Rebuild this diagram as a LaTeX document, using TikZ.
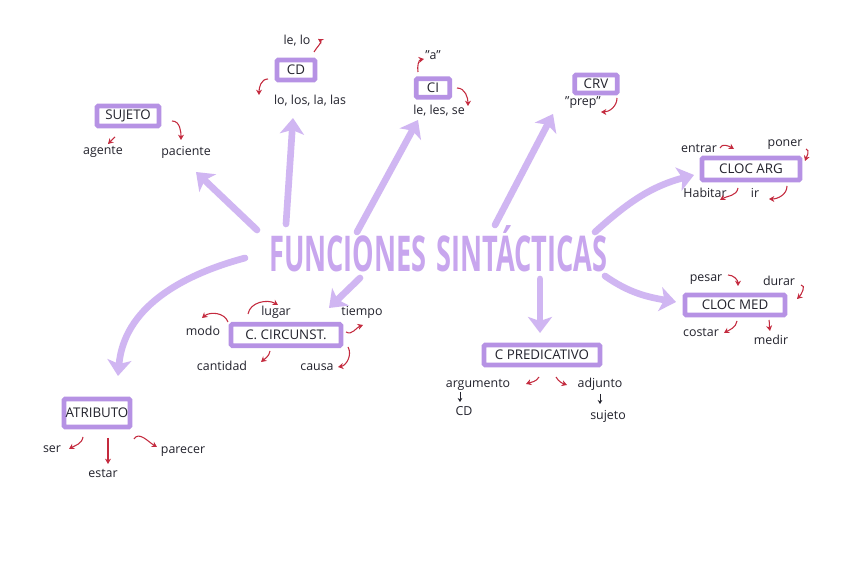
\documentclass[tikz,border=0pt]{standalone}
\usepackage{fontspec}
\setmainfont{Open Sans}
\usetikzlibrary{arrows.meta}
\definecolor{boxc}{RGB}{182,146,228}
\definecolor{titc}{RGB}{200,166,238}
\definecolor{arrc}{RGB}{208,182,242}
\definecolor{redc}{RGB}{196,42,62}
\definecolor{inkc}{RGB}{35,35,45}
\tikzset{
  box/.style ={draw=boxc, line width=3.6pt, fill=white, rounded corners=1pt, inner sep=0pt, font=\fontsize{10}{11}\selectfont, text=inkc},
  lbl/.style ={inner sep=1pt, font=\fontsize{9.3}{10}\selectfont, text=inkc},
  ttl/.style ={inner sep=0pt, anchor=base, font=\fontsize{37}{40}\selectfont\bfseries, text=titc, xscale=0.55, transform shape},
  big/.style ={draw=arrc, line width=5pt, line cap=round, -{Stealth[length=12pt,width=18pt,inset=3pt]}},
  rar/.style ={draw=redc, line width=0.8pt, -{Stealth[length=4pt,width=4.5pt]}},
  kar/.style ={draw=inkc, line width=0.6pt, -{Stealth[length=3pt,width=3.5pt]}},
}
\begin{document}
\begin{tikzpicture}[x=0.75pt, y=0.75pt]
  \fill[white] (0,0) rectangle (848,584);
  \useasboundingbox (0,0) rectangle (848,584);

  % title
  \node[ttl] (fun) at (348,312) {FUNCIONES};
  \node[ttl] (sin) at (522,312) {SINTÁCTICAS};

  % boxes
  \node[box, minimum width=46.5pt, minimum height=15pt] (suj) at (128,468) {SUJETO};
  \node[box, minimum width=28.5pt, minimum height=15pt] (cd) at (296,514) {CD};
  \node[box, minimum width=25pt, minimum height=14pt] (ci) at (433,496) {CI};
  \node[box, minimum width=32pt, minimum height=13.5pt] (crv) at (596,500) {CRV};
  \node[box, minimum width=73.5pt, minimum height=16.5pt] (arg) at (751,415) {CLOC ARG};
  \node[box, minimum width=75pt, minimum height=15pt] (med) at (735,279) {CLOC MED};
  \node[box, minimum width=82.5pt, minimum height=16pt] (circ) at (286,249) {C. CIRCUNST.};
  \node[box, minimum width=87pt, minimum height=15pt] (pred) at (542,229) {C PREDICATIVO};
  \node[box, minimum width=49.5pt, minimum height=21pt] (atr) at (97,171) {ATRIBUTO};

  % labels
  \node[lbl] (age) at (103,432) {agente};
  \node[lbl] (pac) at (186,432) {paciente};
  \node[lbl] (lelo) at (297,543) {le, lo};
  \node[lbl] (lolas) at (310,483) {lo, los, la, las};
  \node[lbl] (qa) at (433,529) {"a"};
  \node[lbl] (leles) at (439,473) {le, les, se};
  \node[lbl] (prep) at (583,481) {"prep"};
  \node[lbl] (entrar) at (699,436) {entrar};
  \node[lbl] (poner) at (785,439) {poner};
  \node[lbl] (habitar) at (705,391) {Habitar};
  \node[lbl] (ir) at (755,391) {ir};
  \node[lbl] (pesar) at (706,304) {pesar};
  \node[lbl] (durar) at (779,303) {durar};
  \node[lbl] (costar) at (701,252) {costar};
  \node[lbl] (medir) at (771,244) {medir};
  \node[lbl] (lugar) at (276,272) {lugar};
  \node[lbl] (modo) at (203,253) {modo};
  \node[lbl] (tiempo) at (362,272) {tiempo};
  \node[lbl] (cant) at (222,218) {cantidad};
  \node[lbl] (causa) at (317,217) {causa};
  \node[lbl] (argu) at (478,199) {argumento};
  \node[lbl] (adju) at (600,200) {adjunto};
  \node[lbl] (cdb) at (464,173) {CD};
  \node[lbl] (sujb) at (608,168) {sujeto};
  \node[lbl] (ser) at (52,135) {ser};
  \node[lbl] (estar) at (103,111) {estar};
  \node[lbl] (parecer) at (183,132) {parecer};

  % big arrows
  \draw[big] ([shift={(-91,42)}]fun.base) -- ([shift={(68,-56)}]suj.center);
  \draw[big] ([shift={(-62,48)}]fun.base) -- ([shift={(-3,-48)}]cd.center);
  \draw[big] ([shift={(9,40)}]fun.base) -- ([shift={(-15,-32)}]ci.center);
  \draw[big] ([shift={(12,-6)}]fun.base) -- ([shift={(43,27)}]circ.center);
  \draw[big] ([shift={(-103,14)}]fun.base) to[out=195, in=85] ([shift={(21,37)}]atr.center);
  \draw[big] ([shift={(-27,47)}]sin.base) -- ([shift={(-43,-30)}]crv.center);
  \draw[big] ([shift={(73,40)}]sin.base) to[out=42, in=195] ([shift={(-57,-6)}]arg.center);
  \draw[big] ([shift={(83,-4)}]sin.base) to[out=-35, in=170] ([shift={(-59,3)}]med.center);
  \draw[big] ([shift={(18,-7)}]sin.base) -- ([shift={(-2,22)}]pred.center);

  % red hooks
  \draw[rar] ([shift={(-13,-21)}]suj.center) -- ([shift={(5,8)}]age.center);
  \draw[rar] ([shift={(44,-5)}]suj.center) to[out=0, in=90] ([shift={(-5,12)}]pac.center);
  \draw[rar] ([shift={(18,18)}]cd.center) to[out=60, in=-30] ([shift={(21,2)}]lelo.center);
  \draw[rar] ([shift={(-28,-9)}]cd.center) to[out=180, in=90] ([shift={(-51,6)}]lolas.center);
  \draw[rar] ([shift={(-15,16)}]ci.center) to[out=100, in=190] ([shift={(-9,-4)}]qa.center);
  \draw[rar] ([shift={(24,0)}]ci.center) to[out=0, in=90] ([shift={(29,5)}]leles.center);
  \draw[rar] ([shift={(21,-14)}]crv.center) to[out=-90, in=0] ([shift={(18,-9)}]prep.center);
  \draw[rar] ([shift={(21,0)}]entrar.center) to[out=70, in=150] ([shift={(-17,20)}]arg.center);
  \draw[rar] ([shift={(21,-4)}]poner.center) to[out=-20, in=70] ([shift={(54,8)}]arg.center);
  \draw[rar] ([shift={(-13,-19)}]arg.center) to[out=-100, in=30] ([shift={(15,-7)}]habitar.center);
  \draw[rar] ([shift={(36,-17)}]arg.center) to[out=-90, in=0] ([shift={(14,-6)}]ir.center);
  \draw[rar] ([shift={(22,5)}]pesar.center) to[out=0, in=90] ([shift={(3,19)}]med.center);
  \draw[rar] ([shift={(22,-4)}]durar.center) to[out=0, in=45] ([shift={(62,6)}]med.center);
  \draw[rar] ([shift={(2,-16)}]med.center) to[out=-100, in=30] ([shift={(23,-1)}]costar.center);
  \draw[rar] ([shift={(34,-15)}]med.center) to[out=-80, in=100] ([shift={(-1,9)}]medir.center);
  \draw[rar] ([shift={(-38,21)}]circ.center) to[out=80, in=150] ([shift={(2,7)}]lugar.center);
  \draw[rar] ([shift={(-58,13)}]circ.center) to[out=110, in=40] ([shift={(-1,13)}]modo.center);
  \draw[rar] ([shift={(60,3)}]circ.center) to[out=-30, in=200] ([shift={(1,-13)}]tiempo.center);
  \draw[rar] ([shift={(-16,-16)}]circ.center) to[out=-100, in=40] ([shift={(39,4)}]cant.center);
  \draw[rar] ([shift={(62,-12)}]circ.center) to[out=-60, in=10] ([shift={(21,0)}]causa.center);
  \draw[rar] ([shift={(-3,-22)}]pred.center) to[out=-120, in=20] ([shift={(48,1)}]argu.center);
  \draw[rar] ([shift={(14,-22)}]pred.center) to[out=-60, in=160] ([shift={(-33,-1)}]adju.center);
  \draw[rar] ([shift={(-14,-24)}]atr.center) to[out=-100, in=30] ([shift={(17,0)}]ser.center);
  \draw[rar] ([shift={(11,-25)}]atr.center) -- ([shift={(5,9)}]estar.center);
  \draw[rar] ([shift={(37,-26)}]atr.center) to[out=60, in=150] ([shift={(-26,5)}]parecer.center);

  % black arrows
  \draw[kar] ([shift={(-18,-7)}]argu.center) -- ([shift={(-4,9)}]cdb.center);
  \draw[kar] ([shift={(0,-10)}]adju.center) -- ([shift={(-8,12)}]sujb.center);
\end{tikzpicture}
\end{document}
